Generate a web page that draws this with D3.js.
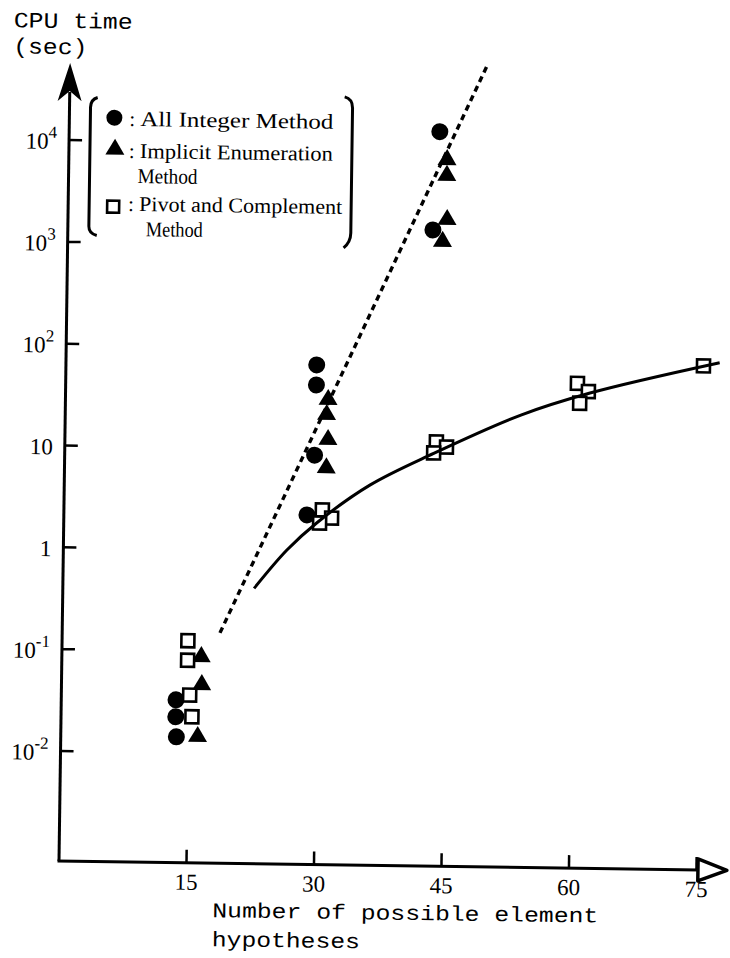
<!DOCTYPE html>
<html>
<head>
<meta charset="utf-8">
<script src="https://cdn.jsdelivr.net/npm/d3@7"></script>
<style>
  html, body { margin: 0; padding: 0; background: #fff; }
  svg { display: block; }
  .mono { font-family: "Liberation Mono", "Courier New", monospace; }
  .serif { font-family: "Liberation Serif", "Times New Roman", serif; }
</style>
</head>
<body>
<script>
// ---- data ----
const xTicks = [15, 30, 45, 60, 75];
const yTicks = [0.01, 0.1, 1, 10, 100, 1000, 10000];
const yTickBase = ["10", "10", "1", "10", "10", "10", "10"];
const yTickExp  = ["-2", "-1", "", "", "2", "3", "4"];

// All Integer Method (filled circles)
const circleN = [13.5, 13.5, 13.6, 29.5, 29.5, 29.4, 28.6, 43.6, 42.95];
const circleV = [0.033, 0.0225, 0.0143, 67, 42.6, 8.7, 2.25, 13600, 1470];
// Implicit Enumeration Method (filled triangles)
const triangleN = [16.4, 16.5, 16.1, 30.9, 30.75, 30.95, 30.8, 44.5, 44.5, 44.6, 44.1];
const triangleV = [0.0916, 0.0486, 0.015, 31.9, 22.7, 12.9, 6.8, 7500, 5250, 1940, 1180];
// Pivot and Complement Method (open squares)
const squareN = [14.8, 14.8, 15.1, 15.4, 30.4, 31.5, 30.1, 43.7, 44.9, 43.4, 60.2, 61.5, 60.5, 75.0];
const squareV = [0.126, 0.081, 0.0369, 0.0226, 2.53, 2.11, 1.88, 12.2, 10.9, 9.5, 48, 40, 30.6, 74];
// solid trend curve (pivot and complement)
const curveN = [22.5, 26.3, 29.75, 35.95, 43.4, 53.6, 61.7, 76.9];
const curveV = [0.42, 1.01, 1.88, 4.5, 9.4, 23, 38.7, 80];
// dotted trend line (integer methods)
const dottedN = [18.56, 49.05];
const dottedV = [0.152, 61200];

const legendLabels = ["All Integer Method", "Implicit Enumeration", "Pivot and Complement"];

// ---- drawing ----
const W = 730, H = 958;
const svg = d3.select("body").append("svg").attr("width", W).attr("height", H);
// the scanned figure is slightly rotated clockwise
const g = svg.append("g").attr("transform", "rotate(0.8,59,861)");

const x = d3.scaleLinear().domain([0, 75]).range([59, 696.5]);
const y = d3.scaleLog().domain([0.01, 10000]).range([751, 140]);
const x0 = x(0), yAxisBottom = 861;

// axes
g.append("line").attr("x1", x0).attr("y1", yAxisBottom).attr("x2", x0).attr("y2", 92)
  .attr("stroke", "#000").attr("stroke-width", 3);
g.append("path").attr("d", `M${x0},63 L${x0 + 12},101 L${x0},91 L${x0 - 12},101 Z`).attr("fill", "#000");
g.append("line").attr("x1", x0 - 1.5).attr("y1", yAxisBottom).attr("x2", 699).attr("y2", yAxisBottom)
  .attr("stroke", "#000").attr("stroke-width", 3);
g.append("path").attr("d", `M698,850 L727,861 L698,872 Z`)
  .attr("fill", "#fff").attr("stroke", "#000").attr("stroke-width", 3.5).attr("stroke-linejoin", "round");

// x ticks
g.selectAll(".xt").data(xTicks).join("line")
  .attr("x1", d => x(d)).attr("x2", d => x(d)).attr("y1", yAxisBottom).attr("y2", yAxisBottom - 13)
  .attr("stroke", "#000").attr("stroke-width", 2.5);
g.selectAll(".xl").data(xTicks).join("text").attr("class", "serif")
  .attr("x", d => x(d)).attr("y", 888).attr("text-anchor", "middle")
  .attr("font-size", 23).text(d => d);

// y ticks
g.selectAll(".yt").data(yTicks).join("line")
  .attr("x1", x0).attr("x2", x0 + 13).attr("y1", d => y(d)).attr("y2", d => y(d))
  .attr("stroke", "#000").attr("stroke-width", 2.5);
const yl = g.selectAll(".yl").data(yTicks).join("text").attr("class", "serif")
  .attr("x", 47).attr("y", d => y(d) + 9).attr("text-anchor", "end").attr("font-size", 23);
yl.append("tspan").text((d, i) => yTickBase[i]);
yl.append("tspan").attr("dy", -11).attr("font-size", 17).text((d, i) => yTickExp[i]);

// axis titles
g.append("text").attr("class", "mono").attr("x", 2).attr("y", 28).attr("font-size", 22)
  .attr("textLength", 119).attr("lengthAdjust", "spacingAndGlyphs").text("CPU time");
g.append("text").attr("class", "mono").attr("x", 2).attr("y", 54).attr("font-size", 22)
  .attr("textLength", 74).attr("lengthAdjust", "spacingAndGlyphs").text("(sec)");
g.append("text").attr("class", "mono").attr("x", 213).attr("y", 915).attr("font-size", 21)
  .attr("textLength", 386).attr("lengthAdjust", "spacingAndGlyphs").text("Number of possible element");
g.append("text").attr("class", "mono").attr("x", 213).attr("y", 944).attr("font-size", 21)
  .attr("textLength", 148).attr("lengthAdjust", "spacingAndGlyphs").text("hypotheses");

// markers
const triPath = "M0,-9 L9.5,7 L-9.5,7 Z";
g.selectAll(".c").data(circleN).join("circle")
  .attr("cx", d => x(d)).attr("cy", (d, i) => y(circleV[i])).attr("r", 8.5).attr("fill", "#000");
g.selectAll(".t").data(triangleN).join("path")
  .attr("d", triPath)
  .attr("transform", (d, i) => `translate(${x(d)},${y(triangleV[i])})`).attr("fill", "#000");
g.selectAll(".s").data(squareN).join("rect")
  .attr("x", d => x(d) - 6.5).attr("y", (d, i) => y(squareV[i]) - 6.5)
  .attr("width", 13).attr("height", 13)
  .attr("fill", "#fff").attr("stroke", "#000").attr("stroke-width", 2.6);

// trend curves
const curvePts = curveN.map((n, i) => [x(n), y(curveV[i])]);
g.append("path").attr("d", d3.line().curve(d3.curveCatmullRom)(curvePts))
  .attr("fill", "none").attr("stroke", "#000").attr("stroke-width", 3);
const dotPts = dottedN.map((n, i) => [x(n), y(dottedV[i])]);
g.append("path").attr("d", d3.line()(dotPts))
  .attr("fill", "none").attr("stroke", "#000").attr("stroke-width", 3.4).attr("stroke-dasharray", "6,4.5");

// legend
const lg = g.append("g");
lg.append("path").attr("d", "M87,97 Q80,99 80,107 L80,226 Q80,233 88,235")
  .attr("fill", "none").attr("stroke", "#000").attr("stroke-width", 3);
lg.append("path").attr("d", "M334,93 Q342,95 342,104 L342,229 Q342,238 335,244")
  .attr("fill", "none").attr("stroke", "#000").attr("stroke-width", 3);
lg.append("circle").attr("cx", 104).attr("cy", 117).attr("r", 8).attr("fill", "#000");
lg.append("path").attr("d", triPath).attr("transform", "translate(105,147)").attr("fill", "#000");
lg.append("rect").attr("x", 98).attr("y", 200).attr("width", 12).attr("height", 12)
  .attr("fill", "#fff").attr("stroke", "#000").attr("stroke-width", 2.6);
const colonY = [125, 157, 210];
lg.selectAll(".colon").data(colonY).join("text").attr("class", "serif")
  .attr("x", 119).attr("y", d => d).attr("font-size", 21).text(":");
const labelX = [130, 130, 130], labelW = [193, 193, 203];
lg.selectAll(".lab").data(legendLabels).join("text").attr("class", "serif")
  .attr("x", (d, i) => labelX[i]).attr("y", (d, i) => colonY[i]).attr("font-size", 21)
  .attr("textLength", (d, i) => labelW[i]).attr("lengthAdjust", "spacingAndGlyphs").text(d => d);
lg.append("text").attr("class", "serif").attr("x", 128).attr("y", 182).attr("font-size", 21)
  .attr("textLength", 60).attr("lengthAdjust", "spacingAndGlyphs").text("Method");
lg.append("text").attr("class", "serif").attr("x", 137).attr("y", 235).attr("font-size", 21)
  .attr("textLength", 57).attr("lengthAdjust", "spacingAndGlyphs").text("Method");
</script>
</body>
</html>
